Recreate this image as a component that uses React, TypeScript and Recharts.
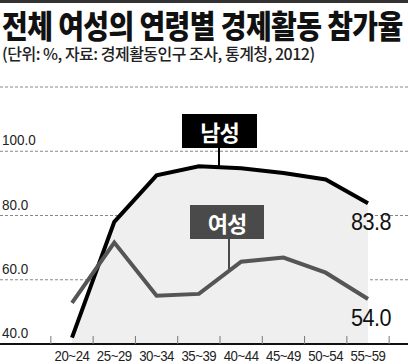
import React from "react";
import {
  ComposedChart,
  Area,
  Line,
  XAxis,
  YAxis,
  CartesianGrid,
  LabelList,
} from "recharts";

const ageGroups = ["20~24", "25~29", "30~34", "35~39", "40~44", "45~49", "50~54", "55~59"];
const menRates = [42.0, 78.0, 92.5, 95.3, 94.7, 93.2, 91.2, 83.8];
const womenRates = [52.8, 71.6, 55.0, 55.6, 65.6, 66.9, 62.2, 54.0];
const yTicks = [40, 60, 80, 100, 120];

const data = ageGroups.map((age, i) => ({
  age,
  men: menRates[i],
  women: womenRates[i],
}));

const W = 408;
const H = 364;
const PAD_L = 72;
const PAD_R = 40;
// distance between two age groups (point scale)
const step = (W - PAD_L - PAD_R) / (ageGroups.length - 1);

const numFont = "'Liberation Sans', Arial, sans-serif";
const korFont = "'Noto Sans CJK KR', 'Noto Sans', sans-serif";

const XTick = (props: any) => {
  const { x, y, payload, index } = props;
  const last = index === ageGroups.length - 1;
  return (
    <g>
      <line x1={x - step / 2} x2={x - step / 2} y1={y} y2={y - 8} stroke="#777" strokeWidth={1} />
      {last && (
        <line x1={x + step / 2} x2={x + step / 2} y1={y} y2={y - 8} stroke="#777" strokeWidth={1} />
      )}
      <text
        transform={`translate(${x},${y + 17}) scale(0.88,1)`}
        textAnchor="middle"
        fontFamily={numFont}
        fontSize={15}
        letterSpacing={-0.5}
        fill="#222"
      >
        {payload.value}
      </text>
    </g>
  );
};

const YTick = (props: any) => {
  const { y, payload } = props;
  if (payload.value === 120) return <g />;
  return (
    <text
      transform={`translate(2,${y - 6}) scale(0.9,1)`}
      textAnchor="start"
      fontFamily={numFont}
      fontSize={15}
      fill="#222"
    >
      {Number(payload.value).toFixed(1)}
    </text>
  );
};

const endLabel = (props: any) => {
  const { x, y, value, index } = props;
  if (index !== ageGroups.length - 1) return null;
  return (
    <text
      transform={`translate(${x + 3},${y + 27}) scale(0.9,1)`}
      textAnchor="middle"
      fontFamily={numFont}
      fontSize={24}
      letterSpacing={-0.5}
      fill="#111"
    >
      {Number(value).toFixed(1)}
    </text>
  );
};

export default function App() {
  return (
    <div style={{ position: "absolute", left: 0, top: 0, width: W, height: H, background: "#fff", overflow: "hidden" }}>
      <div style={{ position: "absolute", left: 0, top: 0, width: W, height: 3, background: "#333" }} />
      <div
        style={{
          position: "absolute",
          left: 2,
          top: 9,
          fontFamily: korFont,
          fontWeight: 900,
          fontSize: 28,
          lineHeight: "28px",
          letterSpacing: -0.6,
          color: "#111",
          whiteSpace: "nowrap",
          transform: "scaleY(1.12)",
          transformOrigin: "top left",
        }}
      >
        전체 여성의 연령별 경제활동 참가율
      </div>
      <div
        style={{
          position: "absolute",
          left: 2,
          top: 44,
          fontFamily: korFont,
          fontWeight: 500,
          fontSize: 16,
          lineHeight: "18px",
          letterSpacing: -0.5,
          color: "#222",
          whiteSpace: "nowrap",
        }}
      >
        (단위: %, 자료: 경제활동인구 조사, 통계청, 2012)
      </div>

      <ComposedChart width={W} height={H} data={data} margin={{ top: 87, right: 0, bottom: 0, left: 0 }}>
        <CartesianGrid horizontal vertical={false} stroke="#888" strokeDasharray="3 2" />
        <XAxis
          dataKey="age"
          height={20}
          padding={{ left: PAD_L, right: PAD_R }}
          axisLine={{ stroke: "#111", strokeWidth: 2 }}
          tickLine={false}
          tickSize={0}
          tickMargin={0}
          interval={0}
          tick={<XTick />}
        />
        <YAxis
          width={40}
          mirror
          domain={[40, 120]}
          ticks={yTicks}
          interval={0}
          axisLine={false}
          tickLine={false}
          tick={<YTick />}
        />
        <Area
          type="linear"
          dataKey="men"
          baseValue={40}
          stroke="#000"
          strokeWidth={4}
          fill="#efefef"
          fillOpacity={1}
          dot={false}
          activeDot={false}
          isAnimationActive={false}
        >
          <LabelList dataKey="men" content={endLabel} />
        </Area>
        <Line
          type="linear"
          dataKey="women"
          stroke="#555"
          strokeWidth={4}
          dot={false}
          activeDot={false}
          isAnimationActive={false}
        >
          <LabelList dataKey="women" content={endLabel} />
        </Line>
      </ComposedChart>

      <div style={{ position: "absolute", left: 218, top: 148, width: 1.5, height: 20, background: "#000" }} />
      <div
        style={{
          position: "absolute",
          left: 182,
          top: 114,
          width: 75,
          height: 34,
          background: "#000",
          color: "#fff",
          fontFamily: korFont,
          fontWeight: 700,
          fontSize: 22,
          lineHeight: "34px",
          letterSpacing: -1,
          textAlign: "center",
        }}
      >
        남성
      </div>
      <div style={{ position: "absolute", left: 228, top: 239, width: 1.5, height: 30, background: "#4a4a4a" }} />
      <div
        style={{
          position: "absolute",
          left: 190,
          top: 205,
          width: 74,
          height: 34,
          background: "#4a4a4a",
          color: "#fff",
          fontFamily: korFont,
          fontWeight: 700,
          fontSize: 22,
          lineHeight: "34px",
          letterSpacing: -1,
          textAlign: "center",
        }}
      >
        여성
      </div>
    </div>
  );
}
